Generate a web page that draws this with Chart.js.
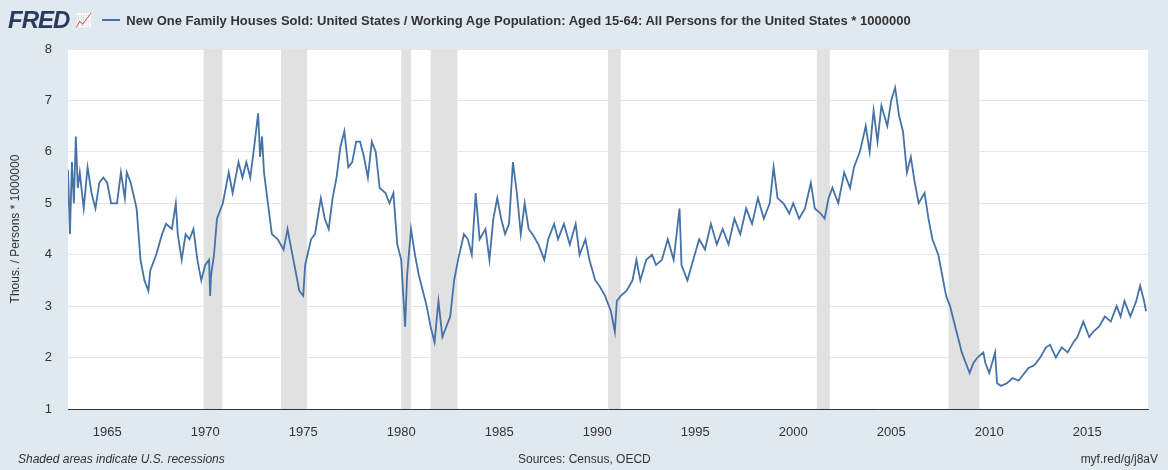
<!DOCTYPE html>
<html><head><meta charset="utf-8">
<script src="https://cdn.jsdelivr.net/npm/chart.js@4/dist/chart.umd.min.js"></script>
<style>
body{margin:0;background:#e1e9f0;font-family:"Liberation Sans",Arial,sans-serif;}
#wrap{position:relative;width:1168px;height:470px;}
#hdr{position:absolute;left:8px;top:6px;display:flex;align-items:center;font-size:13px;color:#333;font-weight:bold;}
#logo{font-size:24px;font-weight:900;color:#2a3a5a;letter-spacing:-1px;margin-right:6px;font-style:italic}
#leg{display:inline-block;width:18px;height:2px;background:#4572a7;margin:0 6px 0 10px;}
.ft{position:absolute;top:452px;font-size:12px;color:#333;}
</style></head><body>
<div id="wrap">
<canvas id="c" width="1168" height="470"></canvas>
<div id="hdr"><span id="logo">FRED</span><span style="color:#6a9;font-size:14px">📈</span><span id="leg"></span>New One Family Houses Sold: United States / Working Age Population: Aged 15-64: All Persons for the United States * 1000000</div>
<div class="ft" style="left:18px;font-style:italic">Shaded areas indicate U.S. recessions</div>
<div class="ft" style="left:518px">Sources: Census, OECD</div>
<div class="ft" style="right:10px">myf.red/g/j8aV</div>
</div>
<script>
const years=[1963.0,1963.1,1963.2,1963.3,1963.4,1963.5,1963.6,1963.8,1964.0,1964.2,1964.4,1964.6,1964.8,1965.0,1965.2,1965.5,1965.7,1965.9,1966.0,1966.2,1966.5,1966.7,1966.9,1967.1,1967.2,1967.5,1967.8,1968.0,1968.3,1968.5,1968.6,1968.8,1969.0,1969.2,1969.4,1969.6,1969.8,1970.0,1970.2,1970.25,1970.3,1970.45,1970.6,1970.9,1971.2,1971.4,1971.7,1971.9,1972.1,1972.3,1972.5,1972.7,1972.8,1972.9,1973.0,1973.2,1973.4,1973.7,1974.0,1974.2,1974.5,1974.8,1975.0,1975.1,1975.4,1975.6,1975.9,1976.1,1976.3,1976.5,1976.7,1976.9,1977.1,1977.3,1977.5,1977.7,1977.9,1978.1,1978.3,1978.5,1978.7,1978.9,1979.2,1979.4,1979.6,1979.8,1980.0,1980.2,1980.3,1980.5,1980.7,1980.9,1981.1,1981.3,1981.5,1981.7,1981.9,1982.1,1982.3,1982.5,1982.7,1982.9,1983.2,1983.4,1983.6,1983.8,1984.0,1984.3,1984.5,1984.7,1984.9,1985.1,1985.3,1985.5,1985.7,1985.9,1986.1,1986.3,1986.5,1986.7,1987.0,1987.3,1987.5,1987.8,1988.0,1988.3,1988.6,1988.9,1989.1,1989.4,1989.6,1989.9,1990.1,1990.4,1990.7,1990.9,1991.0,1991.2,1991.5,1991.8,1992.0,1992.2,1992.5,1992.8,1993.0,1993.3,1993.6,1993.9,1994.2,1994.3,1994.6,1994.9,1995.2,1995.5,1995.8,1996.1,1996.4,1996.7,1997.0,1997.3,1997.6,1997.9,1998.2,1998.5,1998.8,1999.0,1999.2,1999.5,1999.8,2000.0,2000.3,2000.6,2000.9,2001.1,2001.4,2001.6,2001.8,2002.0,2002.3,2002.6,2002.9,2003.1,2003.4,2003.7,2003.9,2004.1,2004.3,2004.5,2004.8,2005.0,2005.2,2005.4,2005.6,2005.8,2006.0,2006.2,2006.4,2006.7,2006.9,2007.1,2007.4,2007.6,2007.8,2008.0,2008.2,2008.4,2008.6,2008.8,2009.0,2009.2,2009.4,2009.7,2009.8,2010.0,2010.3,2010.4,2010.6,2010.9,2011.2,2011.5,2011.8,2012.0,2012.3,2012.6,2012.9,2013.1,2013.4,2013.7,2014.0,2014.3,2014.5,2014.8,2015.1,2015.3,2015.6,2015.9,2016.2,2016.5,2016.7,2016.9,2017.2,2017.5,2017.7,2017.9,2018.0,2018.1];
const values=[5.65,4.4,5.8,5.0,6.3,5.3,5.6,4.9,5.7,5.2,4.9,5.4,5.5,5.4,5.0,5.0,5.6,5.1,5.6,5.4,4.9,3.9,3.5,3.3,3.7,4.0,4.4,4.6,4.5,5.0,4.4,3.9,4.4,4.3,4.5,3.9,3.5,3.8,3.9,3.2,3.6,4.0,4.7,5.0,5.6,5.2,5.8,5.5,5.8,5.5,6.1,6.75,5.9,6.3,5.6,5.0,4.4,4.3,4.1,4.5,3.9,3.3,3.2,3.8,4.3,4.4,5.1,4.7,4.5,5.1,5.5,6.1,6.4,5.7,5.8,6.2,6.2,5.9,5.5,6.2,6.0,5.3,5.2,5.0,5.2,4.2,3.9,2.6,3.6,4.5,4.0,3.6,3.3,3.0,2.6,2.3,3.1,2.4,2.6,2.8,3.5,3.9,4.4,4.3,4.0,5.2,4.3,4.5,3.9,4.7,5.1,4.7,4.4,4.6,5.8,5.2,4.4,5.0,4.5,4.4,4.2,3.9,4.3,4.6,4.3,4.6,4.2,4.6,4.0,4.3,3.9,3.5,3.4,3.2,2.9,2.5,3.1,3.2,3.3,3.5,3.9,3.5,3.9,4.0,3.8,3.9,4.3,3.9,4.9,3.8,3.5,3.9,4.3,4.1,4.6,4.2,4.5,4.2,4.7,4.4,4.9,4.6,5.1,4.7,5.0,5.7,5.1,5.0,4.8,5.0,4.7,4.9,5.4,4.9,4.8,4.7,5.1,5.3,5.0,5.6,5.3,5.7,6.0,6.5,6.0,6.8,6.2,6.9,6.5,7.0,7.25,6.7,6.4,5.6,5.9,5.4,5.0,5.2,4.7,4.3,4.0,3.6,3.2,3.0,2.7,2.4,2.1,1.9,1.7,1.9,2.0,2.1,1.9,1.7,2.1,1.5,1.45,1.5,1.6,1.55,1.7,1.8,1.85,2.0,2.2,2.25,2.0,2.2,2.1,2.3,2.4,2.7,2.4,2.5,2.6,2.8,2.7,3.0,2.8,3.1,2.8,3.1,3.4,3.1,2.9];
const recessions=[[1969.92,1970.87],[1973.87,1975.2],[1980.0,1980.5],[1981.5,1982.87],[1990.55,1991.2],[2001.2,2001.87],[2007.92,2009.5]];
const yTicks=[1,2,3,4,5,6,7,8];
const xTicks=[1965,1970,1975,1980,1985,1990,1995,2000,2005,2010,2015];
const shade={id:'shade',beforeDatasetsDraw(ch){const {ctx,chartArea:a,scales:{x}}=ch;ctx.save();ctx.fillStyle='#e1e1e1';
recessions.forEach(([s,e])=>{const x1=x.getPixelForValue(s),x2=x.getPixelForValue(e);ctx.fillRect(x1,a.top,x2-x1,a.bottom-a.top);});ctx.restore();}};
const bg={id:'bg',beforeDraw(ch){const {ctx,chartArea:a}=ch;ctx.save();ctx.fillStyle='#fff';ctx.fillRect(a.left,a.top,a.right-a.left,a.bottom-a.top);ctx.restore();}};
new Chart(document.getElementById('c'),{type:'line',
data:{datasets:[{data:years.map((y,i)=>({x:y,y:values[i]})),borderColor:'#4572a7',borderWidth:1.8,pointRadius:0,tension:0}]},
options:{responsive:false,animation:false,layout:{padding:{top:49,right:20,bottom:8,left:0}},
plugins:{legend:{display:false},tooltip:{enabled:false}},
scales:{x:{type:'linear',min:1963,max:2018.1,afterFit:s=>{s.height=53},grid:{display:false},border:{color:'#333'},
afterBuildTicks:s=>{s.ticks=xTicks.map(v=>({value:v}))},
ticks:{color:'#333',font:{size:13},callback:v=>String(v),maxRotation:0,padding:8}},
y:{min:1,max:8,afterFit:s=>{s.width=68},afterBuildTicks:s=>{s.ticks=yTicks.map(v=>({value:v}))},
grid:{color:'#e6e6e6',drawTicks:false},border:{display:false},
ticks:{color:'#333',font:{size:13},padding:16},
title:{display:true,text:'Thous. / Persons * 1000000',color:'#333',font:{size:12},padding:{top:8,bottom:0}}}}},
plugins:[bg,shade]});
</script></body></html>
